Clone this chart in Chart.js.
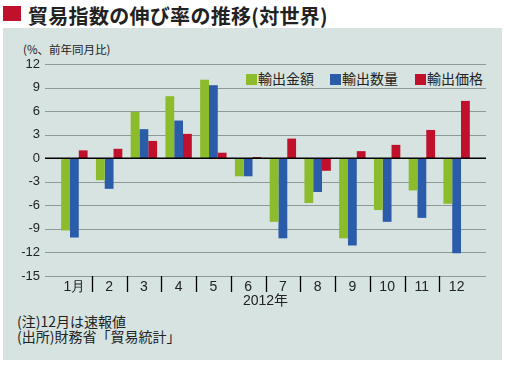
<!DOCTYPE html>
<html>
<head>
<meta charset="utf-8">
<script src="https://cdn.jsdelivr.net/npm/chart.js@4.4.1/dist/chart.umd.min.js"></script>
<style>
  body { margin: 0; background: #fff; font-family: "Liberation Sans", "Noto Sans CJK JP", sans-serif; color: #222; }
  #wrap { position: relative; width: 510px; height: 371px; overflow: hidden; }
  #panel { position: absolute; left: 3px; top: 28px; width: 499px; height: 332px; background: #d6e3e0; }
  #title { position: absolute; left: 28px; top: 1px; font: bold 20px "Noto Sans CJK JP", sans-serif; letter-spacing: 0.3px; color: #222; white-space: nowrap; }
  #titleMark { position: absolute; left: 3px; top: 6px; width: 18px; height: 15px; background: #c0102c; }
  #unit { position: absolute; left: 23px; top: 41px; font: 11.5px "Noto Sans CJK JP", sans-serif; }
  .legend { position: absolute; top: 68px; font: 14px "Noto Sans CJK JP", sans-serif; white-space: nowrap; }
  .legend span { display: inline-block; width: 11px; height: 11px; margin-right: 1px; vertical-align: -1px; }
  .note { position: absolute; left: 17px; font: 14px "Noto Sans CJK JP", sans-serif; white-space: nowrap; }
  canvas { position: absolute; left: 0; top: 0; }
</style>
</head>
<body>
<div id="wrap">
  <div id="panel"></div>
  <div id="titleMark"></div>
  <div id="title">貿易指数の伸び率の推移(対世界)</div>
  <div id="unit">(%、前年同月比)</div>
  <div class="legend" style="left:246px"><span style="background:#8cbb2c"></span>輸出金額</div>
  <div class="legend" style="left:330px"><span style="background:#2b5caa"></span>輸出数量</div>
  <div class="legend" style="left:415px"><span style="background:#c0102c"></span>輸出価格</div>
  <div class="note" style="top:311px">(注)12月は速報値</div>
  <div class="note" style="top:326px">(出所)財務省「貿易統計」</div>
  <canvas id="chart" width="510" height="371"></canvas>
</div>
<script>
const months = ["1月", "2", "3", "4", "5", "6", "7", "8", "9", "10", "11", "12"];
const exportValue = [-9.2, -2.8, 5.9, 7.9, 10.0, -2.3, -8.1, -5.7, -10.2, -6.6, -4.1, -5.8];
const exportVolume = [-10.1, -3.9, 3.7, 4.8, 9.3, -2.3, -10.2, -4.3, -11.1, -8.1, -7.6, -12.1];
const exportPrice = [1.0, 1.2, 2.2, 3.1, 0.7, 0.15, 2.5, -1.6, 0.9, 1.7, 3.6, 7.3];
const yTicks = [12, 9, 6, 3, 0, -3, -6, -9, -12, -15];

// grid lines run wider than the category area, so draw them by hand
const gridPlugin = {
  id: 'grid',
  beforeDatasetsDraw(chart) {
    const ctx = chart.ctx;
    const y = chart.scales.y;
    ctx.save();
    ctx.strokeStyle = '#8d9a98';
    ctx.lineWidth = 1;
    yTicks.forEach(v => {
      if (v === 0) return;
      const py = Math.round(y.getPixelForValue(v)) + 0.5;
      ctx.beginPath();
      ctx.moveTo(45, py);
      ctx.lineTo(486, py);
      ctx.stroke();
    });
    ctx.restore();
  },
  afterDatasetsDraw(chart) {
    const ctx = chart.ctx;
    const x = chart.scales.x;
    const y = chart.scales.y;
    const area = chart.chartArea;
    ctx.save();
    ctx.strokeStyle = '#000';
    ctx.lineWidth = 1.5;
    const py = y.getPixelForValue(0);
    ctx.beginPath();
    ctx.moveTo(45, py);
    ctx.lineTo(486, py);
    ctx.stroke();
    ctx.lineWidth = 1.3;
    for (let i = 0; i < months.length - 1; i++) {
      const px = Math.round((x.getPixelForValue(i) + x.getPixelForValue(i + 1)) / 2) + 0.5;
      ctx.beginPath();
      ctx.moveTo(px, area.bottom);
      ctx.lineTo(px, area.bottom + 16);
      ctx.stroke();
    }
    ctx.restore();
  }
};

new Chart(document.getElementById('chart'), {
  type: 'bar',
  data: {
    labels: months,
    datasets: [
      { label: '輸出金額', data: exportValue, backgroundColor: '#8cbb2c' },
      { label: '輸出数量', data: exportVolume, backgroundColor: '#2b5caa' },
      { label: '輸出価格', data: exportPrice, backgroundColor: '#c0102c' }
    ]
  },
  options: {
    responsive: false,
    animation: false,
    events: [],
    layout: { padding: { top: 64, right: 36, bottom: 61, left: 0 } },
    datasets: { bar: { barPercentage: 1, categoryPercentage: 0.76 } },
    plugins: { legend: { display: false }, tooltip: { enabled: false } },
    scales: {
      x: {
        grid: { display: false, drawTicks: false },
        border: { display: false },
        ticks: { color: '#222', padding: 3, font: { family: 'Liberation Sans', size: 14 } },
        title: { display: true, text: '2012年', color: '#222', padding: { top: 0, bottom: 0 }, font: { family: 'Liberation Sans, Noto Sans CJK JP', size: 14 } },
        afterFit(scale) { scale.height = 34; }
      },
      y: {
        min: -15,
        max: 12,
        grid: { display: false, drawTicks: false },
        border: { display: false },
        afterBuildTicks(scale) { scale.ticks = yTicks.map(v => ({ value: v })); },
        ticks: { color: '#222', padding: 17, font: { family: 'Liberation Sans', size: 13 } },
        afterFit(scale) { scale.width = 57; }
      }
    }
  },
  plugins: [gridPlugin]
});
</script>
</body>
</html>
